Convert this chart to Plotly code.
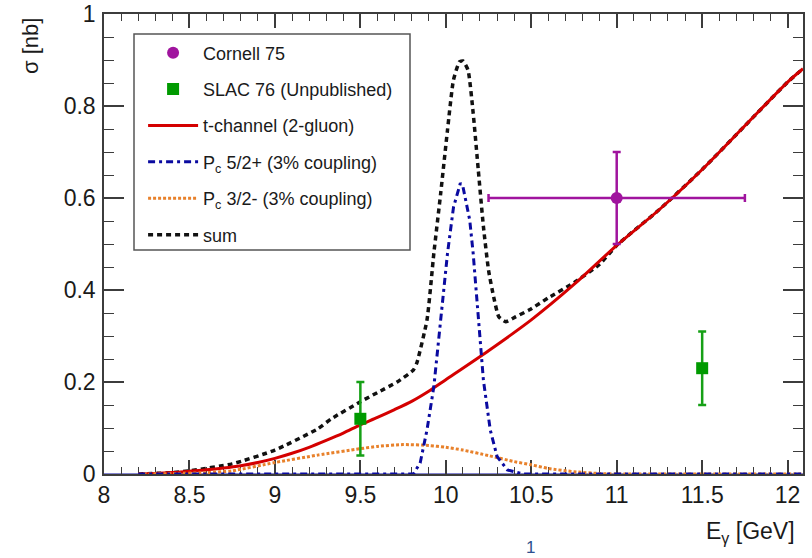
import plotly.graph_objects as go

# ---------------- data ----------------
tch_x = [8.2, 8.3, 8.4, 8.5, 8.6, 8.7, 8.8, 8.9, 9.0, 9.1, 9.2, 9.3, 9.4, 9.5,
         9.6, 9.7, 9.8, 9.9, 10.0, 10.25, 10.5, 10.75, 11.0, 11.25, 11.5,
         11.75, 12.0, 12.09]
tch_y = [0.0, 0.001, 0.003, 0.006, 0.009, 0.013, 0.018, 0.025, 0.034, 0.045,
         0.058, 0.073, 0.089, 0.107, 0.123, 0.14, 0.158, 0.18, 0.205, 0.268,
         0.335, 0.412, 0.497, 0.575, 0.662, 0.757, 0.852, 0.881]

p52_x = [8.2, 9.81, 9.85, 9.89, 9.93, 9.97, 10.01, 10.045, 10.085, 10.1,
         10.14, 10.16, 10.19, 10.22, 10.26, 10.30, 10.36, 10.45, 12.09]
p52_y = [0.0, 0.0, 0.024, 0.096, 0.19, 0.335, 0.48, 0.58, 0.632, 0.625,
         0.552, 0.48, 0.335, 0.204, 0.096, 0.038, 0.009, 0.0, 0.0]

p32_x = [8.2, 8.4, 8.6, 8.75, 9.0, 9.25, 9.5, 9.6, 9.75, 9.9, 10.0, 10.1,
         10.25, 10.4, 10.5, 10.6, 10.75, 10.9, 11.0, 12.09]
p32_y = [0.0, 0.001, 0.003, 0.007, 0.025, 0.041, 0.055, 0.06, 0.064, 0.062,
         0.058, 0.052, 0.04, 0.027, 0.02, 0.012, 0.005, 0.001, 0.0, 0.0]

sum_x = [8.2, 8.4, 8.5, 8.75, 9.0, 9.25, 9.33, 9.5, 9.6, 9.715, 9.81, 9.83,
         9.89, 9.93, 9.97, 10.01, 10.045, 10.08, 10.1, 10.13, 10.16, 10.19,
         10.22, 10.25, 10.28, 10.31, 10.35, 10.41, 10.49, 10.6, 10.75, 10.9,
         11.0, 11.25, 11.5, 11.75, 12.0, 12.09]
sum_y = [0.0, 0.003, 0.007, 0.022, 0.052, 0.098, 0.12, 0.157, 0.177, 0.2,
         0.226, 0.241, 0.335, 0.48, 0.61, 0.748, 0.857, 0.896, 0.898, 0.878,
         0.785, 0.661, 0.538, 0.443, 0.385, 0.342, 0.331, 0.342, 0.357, 0.383,
         0.416, 0.456, 0.497, 0.575, 0.662, 0.757, 0.852, 0.881]

cornell_x = [11.0]
cornell_y = [0.6]
cornell_xerr = [0.75]
cornell_yerr = [0.1]

slac_x = [9.5, 11.5]
slac_y = [0.12, 0.23]
slac_yerr = [0.08, 0.08]

x_ticks = [8, 8.5, 9, 9.5, 10, 10.5, 11, 11.5, 12]
y_ticks = [0, 0.2, 0.4, 0.6, 0.8, 1]

# ---------------- styling ----------------
RED = "#d40000"
BLUE = "#0a0aa0"
ORANGE = "#e8812b"
BLACK = "#111111"
PURPLE = "#a0149e"
GREEN = "#16a016"
AXIS = "#3c3c3c"
FONT = "Liberation Sans, Arial, sans-serif"

fig = go.Figure()

fig.add_trace(go.Scatter(
    x=sum_x, y=sum_y, mode="lines", name="sum",
    line=dict(color=BLACK, width=3.5, dash="5px,4px", shape="spline",
              smoothing=0.5),
    legendgroup="f", legendrank=6))
fig.add_trace(go.Scatter(
    x=tch_x, y=tch_y, mode="lines", name="t-channel (2-gluon)",
    line=dict(color=RED, width=3, shape="spline", smoothing=0.8),
    legendgroup="c", legendrank=3))
fig.add_trace(go.Scatter(
    x=p32_x, y=p32_y, mode="lines", name="P<sub>c</sub> 3/2- (3% coupling)",
    line=dict(color=ORANGE, width=3, dash="3px,2px", shape="spline",
              smoothing=0.6),
    legendgroup="e", legendrank=5))
fig.add_trace(go.Scatter(
    x=p52_x, y=p52_y, mode="lines", name="P<sub>c</sub> 5/2+ (3% coupling)",
    line=dict(color=BLUE, width=3, dash="7px,4px,3px,4px"),
    legendgroup="d", legendrank=4))
fig.add_trace(go.Scatter(
    x=slac_x, y=slac_y, mode="markers", name="SLAC 76 (Unpublished)",
    marker=dict(color="#009a00", symbol="square", size=12),
    error_y=dict(type="data", array=slac_yerr, color=GREEN, thickness=2.5,
                 width=4),
    legendgroup="b", legendrank=2))
fig.add_trace(go.Scatter(
    x=cornell_x, y=cornell_y, mode="markers", name="Cornell 75",
    marker=dict(color=PURPLE, symbol="circle", size=12),
    error_y=dict(type="data", array=cornell_yerr, color=PURPLE, thickness=2.5,
                 width=4),
    error_x=dict(type="data", array=cornell_xerr, color=PURPLE, thickness=2.5,
                 width=4),
    legendgroup="a", legendrank=1))

fig.update_layout(
    width=812, height=558,
    margin=dict(l=104, r=9, t=14, b=84, autoexpand=False),
    paper_bgcolor="white", plot_bgcolor="white",
    font=dict(family=FONT, color="#1a1a1a"),
    showlegend=True,
    legend=dict(
        x=(134 - 104) / 699 + 0.013, y=(474 - 34) / 460 - 0.001,
        xanchor="left", yanchor="top",
        bgcolor="rgba(0,0,0,0)", borderwidth=0,
        font=dict(size=18, family=FONT, color="#1a1a1a"),
        traceorder="grouped", tracegroupgap=10, itemwidth=50,
    ),
    xaxis=dict(
        range=[8, 12.09], tickvals=x_ticks,
        ticktext=[f"{v:g}" for v in x_ticks],
        showgrid=False, zeroline=False, automargin=False,
        showline=True, linecolor=AXIS, linewidth=1.5, mirror="ticks",
        ticks="inside", ticklen=14, tickcolor=AXIS, tickwidth=1.5,
        minor=dict(dtick=0.1, ticks="inside", ticklen=7, tickcolor=AXIS,
                   tickwidth=1.2, showgrid=False),
        tickfont=dict(size=23, family=FONT, color="#1a1a1a"),
        layer="below traces",
    ),
    yaxis=dict(
        range=[0, 1], tickvals=y_ticks,
        ticktext=[f"{v:g}" for v in y_ticks],
        showgrid=False, zeroline=False, automargin=False,
        showline=True, linecolor=AXIS, linewidth=1.5, mirror="ticks",
        ticks="inside", ticklen=20, tickcolor=AXIS, tickwidth=1.5,
        minor=dict(dtick=0.05, ticks="inside", ticklen=10, tickcolor=AXIS,
                   tickwidth=1.2, showgrid=False),
        tickfont=dict(size=23, family=FONT, color="#1a1a1a"),
        ticklabelstandoff=2,
        layer="below traces",
    ),
    shapes=[
        # legend frame
        dict(type="rect", xref="paper", yref="paper",
             x0=(134 - 104) / 699, x1=(410 - 104) / 699,
             y0=(474 - 250) / 460, y1=(474 - 34) / 460,
             line=dict(color="#555555", width=1.5), fillcolor="white",
             layer="below"),
        # navy bottom frame line
        dict(type="line", xref="paper", yref="paper", x0=0, x1=1,
             ysizemode="pixel", yanchor=0, y0=-0.5, y1=-0.5,
             line=dict(color=BLUE, width=2.2), layer="below"),
    ],
    annotations=[
        dict(text="σ [nb]", textangle=-90, xref="paper", yref="paper",
             x=(30 - 104) / 699, y=(474 - 46) / 460, xanchor="center",
             yanchor="middle", showarrow=False,
             font=dict(size=22, family=FONT, color="#1a1a1a")),
        dict(text="E<sub>γ</sub> [GeV]", xref="paper", yref="paper",
             x=(797 - 104) / 699, y=(474 - 532) / 460, xanchor="right",
             yanchor="middle", showarrow=False,
             font=dict(size=23, family=FONT, color="#1a1a1a")),
        dict(text="1", xref="paper", yref="paper",
             x=(530 - 104) / 699, y=(474 - 547) / 460, xanchor="center",
             yanchor="middle", showarrow=False,
             font=dict(size=17, family=FONT, color="#2d4f8f")),
    ],
)

# remove the browser's default 8px body margin so the figure fills the window
fig.write_html("out.html",
               config={"displayModeBar": False},
               post_script="document.body.style.margin='0';"
                           "document.body.style.overflow='hidden';")
